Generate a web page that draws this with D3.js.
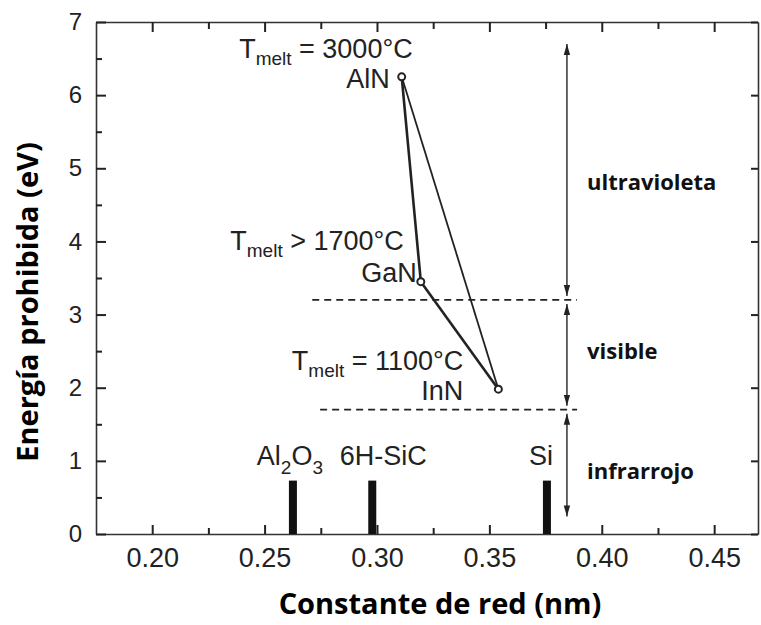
<!DOCTYPE html>
<html lang="es">
<head>
  <meta charset="UTF-8">
  <title>Energía prohibida vs constante de red</title>
</head>
<style>
  body {
    margin: 0;
    background: #fff;
  }
  svg {
    display: block;
  }
  .tick text {
    font-family: "Liberation Sans", Arial, sans-serif;
    fill: #222;
  }
  .note {
    font-family: "Liberation Sans", Arial, sans-serif;
    font-size: 27px;
    fill: #222;
  }
  .band {
    font-family: "Open Sans", sans-serif;
    font-weight: bold;
    font-size: 22px;
    fill: #111;
  }
  .title {
    font-family: "Open Sans", sans-serif;
    font-weight: bold;
    font-size: 29px;
    fill: #000;
  }
</style>
<body>
<svg width="761" height="625"></svg>
<script src="https://cdn.jsdelivr.net/npm/d3@7/dist/d3.min.js"></script>
<script>
  // nitrides: lattice constant (nm) vs band gap (eV)
  const compounds = ['AlN', 'GaN', 'InN'];
  const latticeNm = [0.311, 0.3195, 0.354];
  const gapEv = [6.25, 3.45, 1.98];
  const meltSign = ['=', '>', '='];
  const meltC = [3000, 1700, 1100];

  // substrates drawn as short bars on the x axis
  const substrates = ['Al2O3', '6H-SiC', 'Si'];
  const substrateNm = [0.2626, 0.2979, 0.3756];
  const substrateMark = [0.73, 0.73, 0.73];

  // spectral ranges (eV edges, top to bottom)
  const bandNames = ['ultravioleta', 'visible', 'infrarrojo'];
  const bandEdges = [6.7, 3.2, 1.7, 0.24];
  const dashFrom = [0.2712, 0.2747];
  const dashTo = 0.389;

  const xTicks = [0.20, 0.25, 0.30, 0.35, 0.40, 0.45];
  const xMinor = [0.225, 0.275, 0.325, 0.375, 0.425];
  const yTicks = [0, 1, 2, 3, 4, 5, 6, 7];
  const yMinor = [0.5, 1.5, 2.5, 3.5, 4.5, 5.5, 6.5];

  const svg = d3.select('svg');
  const plotL = 96, plotR = 758, plotT = 22, plotB = 534;

  const x = d3.scaleLinear().domain([0.175, 0.4695]).range([plotL, plotR]);
  const y = d3.scaleLinear().domain([0, 7]).range([plotB, plotT]);

  svg.append('rect').attr('width', 761).attr('height', 625).style('fill', '#fff');

  const defs = svg.append('defs');
  defs.append('marker')
    .attr('id', 'head')
    .attr('viewBox', '0 0 10 10')
    .attr('refX', 10).attr('refY', 5)
    .attr('markerWidth', 11).attr('markerHeight', 8)
    .attr('markerUnits', 'userSpaceOnUse')
    .attr('orient', 'auto-start-reverse')
    .attr('preserveAspectRatio', 'none')
    .append('path')
    .attr('d', 'M0,1L10,5L0,9Z')
    .style('fill', '#222');

  // axes: tick marks point into the plot
  const axisStyle = g => {
    g.selectAll('path.domain').style('stroke', '#333').style('stroke-width', 1.6);
    g.selectAll('.tick line').style('stroke', '#222').style('stroke-width', 2);
  };

  const xAxisB = svg.append('g').attr('transform', `translate(0,${plotB})`)
    .call(d3.axisBottom(x).tickValues(xTicks).tickSize(-9).tickSizeOuter(0)
      .tickPadding(14).tickFormat(d3.format('.2f')));
  xAxisB.call(axisStyle);
  xAxisB.selectAll('.tick text').style('font-size', '27px');

  const xMinorB = svg.append('g').attr('transform', `translate(0,${plotB})`)
    .call(d3.axisBottom(x).tickValues(xMinor).tickSize(-6).tickFormat(''));
  xMinorB.call(axisStyle);
  xMinorB.select('path.domain').remove();

  const xAxisT = svg.append('g').attr('transform', `translate(0,${plotT})`)
    .call(d3.axisTop(x).tickValues(xTicks).tickSize(-10).tickSizeOuter(0).tickFormat(''));
  xAxisT.call(axisStyle);

  const xMinorT = svg.append('g').attr('transform', `translate(0,${plotT})`)
    .call(d3.axisTop(x).tickValues(xMinor).tickSize(-7).tickFormat(''));
  xMinorT.call(axisStyle);
  xMinorT.select('path.domain').remove();

  const yAxisL = svg.append('g').attr('transform', `translate(${plotL},0)`)
    .call(d3.axisLeft(y).tickValues(yTicks).tickSize(-10).tickSizeOuter(0)
      .tickPadding(14).tickFormat(d3.format('d')));
  yAxisL.call(axisStyle);
  yAxisL.selectAll('.tick text').style('font-size', '24px');

  const yMinorL = svg.append('g').attr('transform', `translate(${plotL},0)`)
    .call(d3.axisLeft(y).tickValues(yMinor).tickSize(-6).tickFormat(''));
  yMinorL.call(axisStyle);
  yMinorL.select('path.domain').remove();

  const yAxisR = svg.append('g').attr('transform', `translate(${plotR},0)`)
    .call(d3.axisRight(y).tickValues(yTicks).tickSize(-7).tickSizeOuter(0).tickFormat(''));
  yAxisR.call(axisStyle);

  // dashed range limits
  svg.selectAll('line.limit').data(bandEdges.slice(1, 3)).enter().append('line')
    .attr('class', 'limit')
    .attr('x1', (d, i) => x(dashFrom[i]))
    .attr('x2', x(dashTo))
    .attr('y1', d => y(d)).attr('y2', d => y(d))
    .style('stroke', '#222').style('stroke-width', 1.8)
    .style('stroke-dasharray', '7,5');

  // range arrows and labels
  const arrowX = x(0.3845);
  const bands = bandNames.map((name, i) => ({name, hi: bandEdges[i], lo: bandEdges[i + 1]}));
  svg.selectAll('line.arrow').data(bands).enter().append('line')
    .attr('class', 'arrow')
    .attr('x1', arrowX).attr('x2', arrowX)
    .attr('y1', (d, i) => y(d.hi) + (i === 0 ? 0 : 4))
    .attr('y2', (d, i) => y(d.lo) - (i === 2 ? 0 : 4))
    .attr('marker-start', 'url(#head)')
    .attr('marker-end', 'url(#head)')
    .style('stroke', '#333').style('stroke-width', 1.5);

  const bandLabelY = [190, 359, 479];
  svg.selectAll('text.band').data(bands).enter().append('text')
    .attr('class', 'band')
    .attr('x', 587)
    .attr('y', (d, i) => bandLabelY[i])
    .text(d => d.name);

  // substrate bars
  const subs = substrates.map((name, i) => ({name, a: substrateNm[i], h: substrateMark[i]}));
  svg.selectAll('rect.sub').data(subs).enter().append('rect')
    .attr('class', 'sub')
    .attr('x', d => x(d.a) - 4)
    .attr('width', 8)
    .attr('y', d => y(d.h))
    .attr('height', d => y(0) - y(d.h))
    .style('fill', '#111');

  const subLabelDx = [-3, 11, -6];
  const subLabels = svg.selectAll('text.sub').data(subs).enter().append('text')
    .attr('class', 'note')
    .attr('x', (d, i) => x(d.a) + subLabelDx[i])
    .attr('y', 465)
    .attr('text-anchor', 'middle');
  subLabels.each(function(d) {
    const t = d3.select(this);
    if (d.name === 'Al2O3') {
      t.append('tspan').text('Al');
      t.append('tspan').attr('dy', 9).style('font-size', '19px').text('2');
      t.append('tspan').attr('dy', -9).text('O');
      t.append('tspan').attr('dy', 9).style('font-size', '19px').text('3');
    } else {
      t.text(d.name);
    }
  });

  // nitride triangle
  const pts = compounds.map((name, i) => ({name, a: latticeNm[i], eg: gapEv[i], sign: meltSign[i], t: meltC[i]}));
  const seg = [[0, 1, 2.6], [1, 2, 2.6], [0, 2, 1.8]];
  svg.selectAll('line.seg').data(seg).enter().append('line')
    .attr('class', 'seg')
    .attr('x1', d => x(pts[d[0]].a)).attr('y1', d => y(pts[d[0]].eg))
    .attr('x2', d => x(pts[d[1]].a)).attr('y2', d => y(pts[d[1]].eg))
    .style('stroke', '#222').style('stroke-width', d => d[2]);

  svg.selectAll('circle').data(pts).enter().append('circle')
    .attr('cx', d => x(d.a)).attr('cy', d => y(d.eg))
    .attr('r', 3.5)
    .style('fill', '#fff').style('stroke', '#222').style('stroke-width', 2);

  // labels next to each point
  const nameOff = [[-12, 11], [-4, 0], [-35, 11]];
  const meltOff = [[11, -19], [-17, -32], [-35, -19]];
  svg.selectAll('text.name').data(pts).enter().append('text')
    .attr('class', 'note name')
    .attr('text-anchor', 'end')
    .attr('x', (d, i) => x(d.a) + nameOff[i][0])
    .attr('y', (d, i) => y(d.eg) + nameOff[i][1])
    .text(d => d.name);

  const melt = svg.selectAll('text.melt').data(pts).enter().append('text')
    .attr('class', 'note melt')
    .attr('text-anchor', 'end')
    .attr('x', (d, i) => x(d.a) + meltOff[i][0])
    .attr('y', (d, i) => y(d.eg) + meltOff[i][1]);
  melt.append('tspan').text('T');
  melt.append('tspan').attr('dy', 7).style('font-size', '19px').text('melt');
  melt.append('tspan').attr('dy', -7).text(d => ` ${d.sign} ${d.t}°C`);

  // axis titles
  svg.append('text')
    .attr('class', 'title')
    .attr('text-anchor', 'middle')
    .attr('transform', 'translate(38,302) rotate(-90)')
    .text('Energía prohibida (eV)');

  svg.append('text')
    .attr('class', 'title')
    .attr('text-anchor', 'middle')
    .attr('x', 440).attr('y', 614)
    .text('Constante de red (nm)');
</script>
</body>
</html>
